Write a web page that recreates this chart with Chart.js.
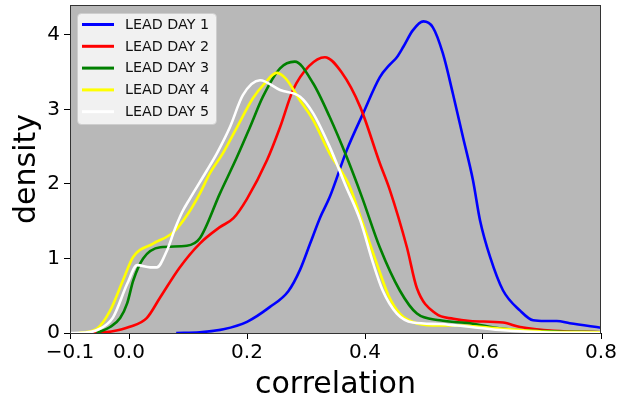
<!DOCTYPE html>
<html>
<head>
<meta charset="utf-8">
<script src="https://cdn.jsdelivr.net/npm/chart.js@4.4.1/dist/chart.umd.min.js"></script>
<style>
  html, body { margin: 0; padding: 0; background: #fff; }
  #wrap { width: 619px; height: 402px; }
</style>
</head>
<body>
<div id="wrap"><canvas id="kdeChart" width="619" height="402"></canvas></div>
<script>
// tick labels
var xTicks = [-0.1, 0.0, 0.2, 0.4, 0.6, 0.8];
var yTicks = [0, 1, 2, 3, 4];

var seriesNames = ['LEAD DAY 1', 'LEAD DAY 2', 'LEAD DAY 3', 'LEAD DAY 4', 'LEAD DAY 5'];
var seriesColors = ['#0000ff', '#ff0000', '#008000', '#ffff00', '#ffffff'];

// density curves (correlation, density)
var day1X = [0.08, 0.12, 0.16, 0.2, 0.239, 0.27, 0.29, 0.307, 0.324, 0.34, 0.369, 0.397, 0.425, 0.442, 0.454, 0.465, 0.481, 0.499, 0.515, 0.532, 0.549, 0.566, 0.583, 0.595, 0.612, 0.634, 0.663, 0.685, 0.705, 0.725, 0.747, 0.8];
var day1Y = [0, 0.01, 0.05, 0.15, 0.35, 0.56, 0.85, 1.2, 1.55, 1.82, 2.45, 2.95, 3.43, 3.6, 3.7, 3.84, 4.06, 4.18, 4.1, 3.75, 3.21, 2.63, 2.05, 1.51, 1.02, 0.57, 0.3, 0.17, 0.16, 0.16, 0.13, 0.07];

var day2X = [-0.06, -0.03, 0.0, 0.03, 0.053, 0.086, 0.12, 0.154, 0.177, 0.2, 0.234, 0.256, 0.278, 0.305, 0.332, 0.36, 0.392, 0.425, 0.442, 0.471, 0.488, 0.52, 0.55, 0.578, 0.634, 0.663, 0.72, 0.8];
var day2Y = [0, 0.02, 0.08, 0.2, 0.48, 0.88, 1.2, 1.42, 1.54, 1.8, 2.32, 2.76, 3.26, 3.58, 3.7, 3.5, 3.03, 2.28, 1.92, 1.15, 0.6, 0.26, 0.19, 0.16, 0.14, 0.08, 0.03, 0.01];

var day3X = [-0.055, -0.032, -0.015, -0.003, 0.007, 0.024, 0.053, 0.098, 0.12, 0.154, 0.183, 0.205, 0.227, 0.256, 0.281, 0.312, 0.34, 0.369, 0.395, 0.425, 0.459, 0.488, 0.527, 0.578, 0.63, 0.685, 0.8];
var day3Y = [0, 0.08, 0.2, 0.4, 0.7, 1.0, 1.15, 1.17, 1.27, 1.87, 2.36, 2.76, 3.17, 3.55, 3.64, 3.35, 2.9, 2.36, 1.82, 1.15, 0.57, 0.26, 0.17, 0.13, 0.06, 0.03, 0.01];

var day4X = [-0.085, -0.054, -0.032, -0.01, 0.007, 0.041, 0.075, 0.1, 0.12, 0.137, 0.159, 0.183, 0.21, 0.23, 0.25, 0.265, 0.29, 0.312, 0.34, 0.372, 0.395, 0.42, 0.44, 0.459, 0.48, 0.515, 0.556, 0.629, 0.7, 0.8];
var day4Y = [0, 0.06, 0.3, 0.71, 1.02, 1.2, 1.35, 1.6, 1.87, 2.14, 2.41, 2.76, 3.15, 3.35, 3.49, 3.42, 3.12, 2.86, 2.41, 2.0, 1.5, 0.93, 0.5, 0.26, 0.15, 0.1, 0.1, 0.06, 0.02, 0.01];

var day5X = [-0.1, -0.075, -0.054, -0.027, -0.003, 0.014, 0.036, 0.047, 0.064, 0.078, 0.09, 0.103, 0.132, 0.149, 0.171, 0.193, 0.222, 0.256, 0.29, 0.312, 0.34, 0.366, 0.392, 0.414, 0.43, 0.454, 0.481, 0.527, 0.556, 0.629, 0.7, 0.8];
var day5Y = [0, 0.005, 0.04, 0.21, 0.66, 0.91, 0.88, 0.88, 1.1, 1.4, 1.62, 1.8, 2.18, 2.41, 2.76, 3.19, 3.39, 3.26, 3.17, 2.95, 2.5, 2.0, 1.51, 0.93, 0.57, 0.26, 0.14, 0.12, 0.1, 0.04, 0.01, 0];

var allX = [day1X, day2X, day3X, day4X, day5X];
var allY = [day1Y, day2Y, day3Y, day4Y, day5Y];

function toPoints(xs, ys) {
    var pts = [];
    for (var i = 0; i < xs.length; i++) {
        pts.push({x: xs[i], y: ys[i]});
    }
    return pts;
}

var datasets = [];
for (var i = 0; i < seriesNames.length; i++) {
    datasets.push({
        label: seriesNames[i],
        data: toPoints(allX[i], allY[i]),
        borderColor: seriesColors[i],
        borderWidth: 2.6,
        pointRadius: 0,
        fill: false,
        cubicInterpolationMode: 'monotone',
        order: seriesNames.length - i   // last series drawn on top
    });
}

var fontName = "'DejaVu Sans', sans-serif";

// no extra room for the end labels, the layout is fixed by hand
function noPad(s) {
    s.paddingTop = 0;
    s.paddingBottom = 0;
    s.paddingLeft = 0;
    s.paddingRight = 0;
}

var framePlugin = {
    id: 'frame',
    beforeDraw: function(chart) {
        var c = chart.ctx, a = chart.chartArea;
        c.save();
        c.fillStyle = '#ffffff';
        c.fillRect(0, 0, chart.width, chart.height);
        c.fillStyle = '#b8b8b8';
        c.fillRect(a.left, a.top, a.right - a.left, a.bottom - a.top);
        c.restore();
    },
    afterDraw: function(chart) {
        var c = chart.ctx, a = chart.chartArea;
        c.save();
        // axes frame
        c.strokeStyle = '#333333';
        c.lineWidth = 1;
        c.strokeRect(Math.round(a.left) + 0.5, Math.round(a.top) + 0.5,
            Math.round(a.right - a.left) - 1, Math.round(a.bottom - a.top));

        // legend box
        var bx = 77.5, by = 13.5, bw = 139, bh = 111, r = 4;
        c.beginPath();
        c.moveTo(bx + r, by);
        c.arcTo(bx + bw, by, bx + bw, by + bh, r);
        c.arcTo(bx + bw, by + bh, bx, by + bh, r);
        c.arcTo(bx, by + bh, bx, by, r);
        c.arcTo(bx, by, bx + bw, by, r);
        c.closePath();
        c.fillStyle = 'rgba(255,255,255,0.8)';
        c.fill();
        c.strokeStyle = 'rgba(204,204,204,0.8)';
        c.stroke();

        c.font = '14.3px ' + fontName;
        c.textBaseline = 'middle';
        c.textAlign = 'left';
        chart.data.datasets.forEach(function(ds, k) {
            var ry = 24.5 + k * 21.8;
            c.strokeStyle = ds.borderColor;
            c.lineWidth = 3;
            c.beginPath();
            c.moveTo(82, ry);
            c.lineTo(114, ry);
            c.stroke();
            c.fillStyle = '#111111';
            c.fillText(ds.label, 125, ry + 0.5);
        });

        // axis titles
        c.fillStyle = '#000000';
        c.font = '30px ' + fontName;
        c.textAlign = 'center';
        c.textBaseline = 'alphabetic';
        c.fillText('correlation', (a.left + a.right) / 2, 393);
        c.translate(35, (a.top + a.bottom) / 2);
        c.rotate(-Math.PI / 2);
        c.fillText('density', 0, 0);
        c.restore();
    }
};

var ctx = document.getElementById('kdeChart').getContext('2d');
var myChart = new Chart(ctx, {
    type: 'line',
    data: { datasets: datasets },
    options: {
        responsive: false,
        animation: false,
        devicePixelRatio: 1,
        layout: { padding: { top: 5, right: 18, left: 0, bottom: 0 } },
        plugins: {
            legend: { display: false },
            tooltip: { enabled: false }
        },
        scales: {
            x: {
                type: 'linear',
                min: -0.1,
                max: 0.8,
                afterBuildTicks: function(s) {
                    s.ticks = xTicks.map(function(v) { return {value: v}; });
                },
                afterFit: function(s) { s.height = 69; noPad(s); },
                ticks: {
                    autoSkip: false,
                    maxRotation: 0,
                    padding: 2,
                    color: '#000000',
                    font: { family: fontName, size: 20 },
                    callback: function(v) { return v.toFixed(1).replace('-', '\u2212'); }
                },
                grid: { drawOnChartArea: false, drawTicks: true, tickLength: 6, color: '#000000' },
                border: { display: false }
            },
            y: {
                min: 0,
                max: 4.4,
                afterBuildTicks: function(s) {
                    s.ticks = yTicks.map(function(v) { return {value: v}; });
                },
                afterFit: function(s) { s.width = 70; noPad(s); },
                ticks: {
                    padding: 4,
                    color: '#000000',
                    font: { family: fontName, size: 20 },
                    callback: function(v) { return String(v); }
                },
                grid: { drawOnChartArea: false, drawTicks: true, tickLength: 6, color: '#000000' },
                border: { display: false }
            }
        }
    },
    plugins: [framePlugin]
});
</script>
</body>
</html>
